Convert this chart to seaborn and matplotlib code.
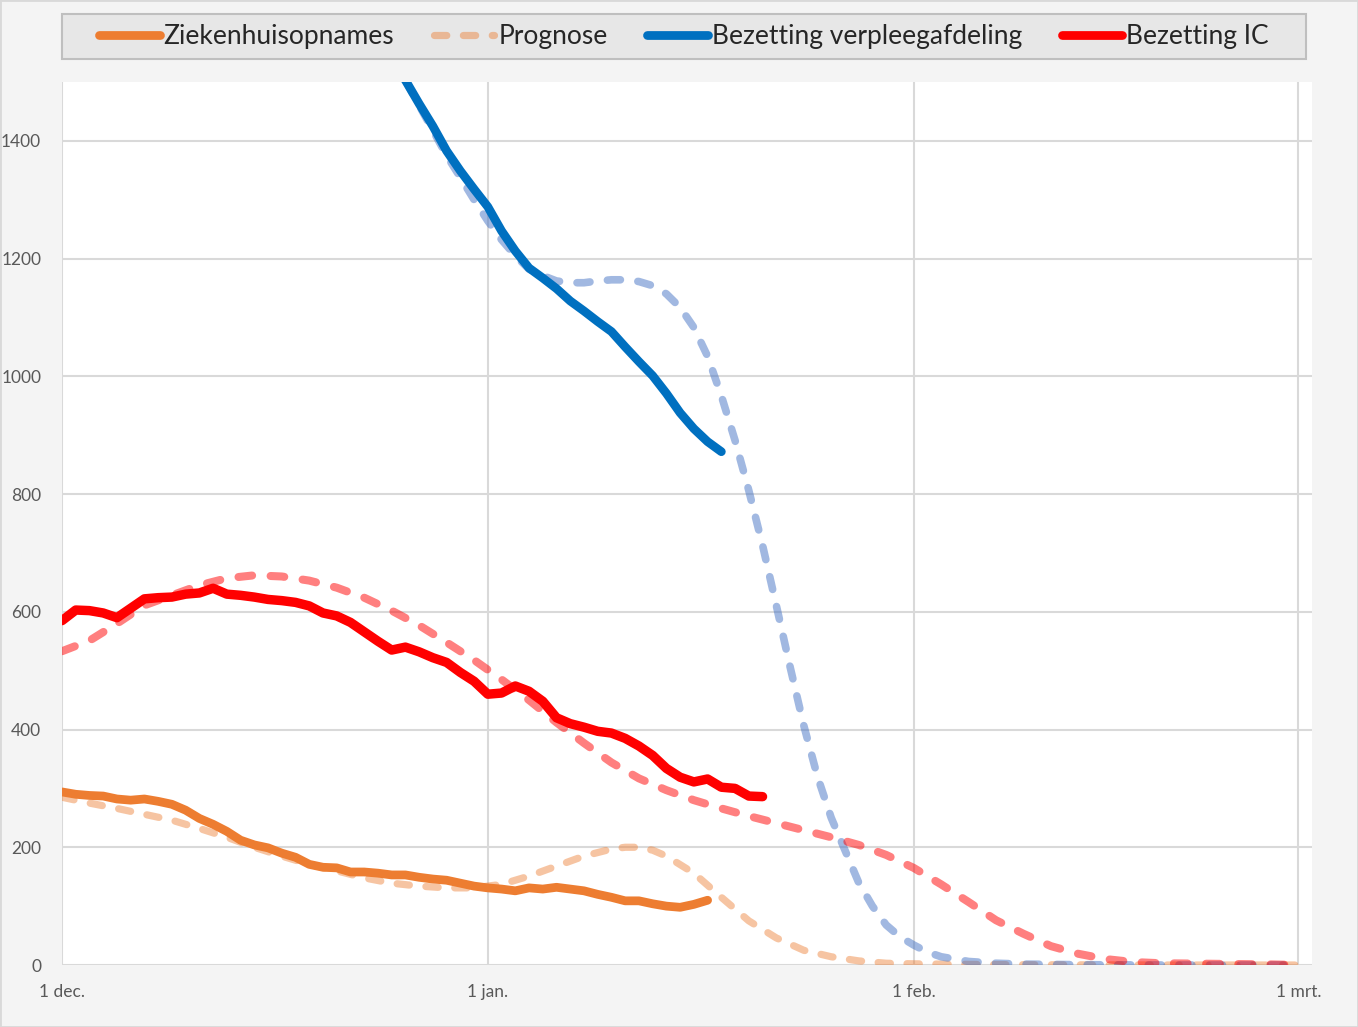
import pandas as pd
import seaborn as sns
import matplotlib.pyplot as plt
from matplotlib.lines import Line2D
from matplotlib.patches import Rectangle

# ---------------------------
# Data (x = days since 1 dec.)
# ---------------------------
opnames_days = list(range(0, 48))
opnames = [294, 290, 288, 287, 282, 280, 282, 278, 273, 263, 249, 239, 227, 212,
           204, 199, 190, 183, 171, 166, 165, 158, 158, 156, 153, 153, 149, 146,
           144, 139, 134, 131, 129, 126, 131, 129, 132, 129, 126, 120, 115, 109,
           109, 104, 100, 98, 103, 110]

ic_days = list(range(0, 52))
ic = [585, 603, 602, 598, 590, 606, 622, 624, 625, 630, 632, 640, 630, 628, 625,
      621, 619, 616, 610, 598, 593, 582, 566, 550, 535, 540, 532, 522, 514, 497,
      482, 460, 462, 474, 465, 448, 420, 410, 404, 397, 394, 385, 372, 356, 334,
      319, 311, 316, 302, 300, 287, 286]

verpleeg_days = list(range(24, 49))
verpleeg = [1545, 1503, 1463, 1425, 1383, 1349, 1318, 1288, 1247, 1213, 1184,
            1167, 1149, 1128, 1111, 1093, 1076, 1050, 1025, 1001, 971, 938, 911,
            889, 872]

# prognoses
progn_opn_days = [0, 2, 4, 6, 8, 10, 12, 14, 16, 18, 20, 22, 24, 26, 28, 30, 32,
                  34, 36, 38, 40, 41, 42, 43, 44, 46, 48, 50, 52, 54, 56, 58, 60,
                  62, 66, 70, 80, 90]
progn_opn = [285, 275, 266, 256, 246, 232, 217, 200, 185, 171, 160, 148, 139, 134,
             131, 131, 137, 151, 168, 185, 197, 200, 200, 195, 185, 156, 115, 75,
             46, 25, 14, 7, 3, 2, 1, 0.5, 0, 0]

progn_ic_days = [0, 2, 4, 6, 8, 10, 12, 14, 16, 18, 20, 22, 24, 26, 28, 30, 32, 34,
                 36, 38, 40, 42, 44, 46, 48, 50, 52, 54, 56, 58, 60, 62, 64, 66,
                 68, 70, 72, 74, 76, 78, 80, 84, 88, 90]
progn_ic = [533, 551, 580, 611, 628, 645, 657, 662, 660, 653, 641, 624, 602, 577,
            548, 518, 485, 450, 412, 377, 344, 317, 297, 280, 266, 253, 241, 229,
            217, 204, 187, 165, 137, 107, 76, 53, 32, 19, 10, 5, 3, 2, 1, 0]

progn_vp_days = [24, 25, 26, 27, 28, 29, 30, 31, 32, 33, 34, 35, 36, 37, 38, 39, 40,
                 41, 42, 43, 44, 45, 46, 47, 48, 49, 50, 51, 52, 53, 54, 55, 56,
                 57, 58, 59, 60, 61, 62, 63, 64, 66, 68, 70, 74, 80, 90]
progn_vp = [1545, 1503, 1460, 1418, 1375, 1338, 1300, 1264, 1232, 1205, 1182, 1171,
            1162, 1159, 1159, 1162, 1164, 1164, 1161, 1154, 1140, 1117, 1083, 1034,
            967, 891, 806, 713, 611, 507, 407, 320, 250, 195, 140, 100, 68, 48, 34,
            22, 14, 6, 3, 1.5, 0.5, 0, 0]

tick_days = [0, 31, 62, 90]
tick_labels = ["1 dec.", "1 jan.", "1 feb.", "1 mrt."]

ORANGE = "#ED7D31"
BLUE = "#0070C0"
RED = "#FF0000"
BLUE_P = "#4472C4"

W, H = 1358, 1027

sns.set_style("white")
plt.rcParams["font.family"] = ["Lato", "DejaVu Sans"]

fig = plt.figure(figsize=(W / 100, H / 100), dpi=100, facecolor="#f4f4f4")
ax = fig.add_axes([62 / W, 62 / H, (1312 - 62) / W, (965 - 82) / H])
ax.set_facecolor("white")

dash = [1.7, 2.3]


def draw(days, vals, color, lw, alpha=1.0, dashed=False, z=2):
    df = pd.DataFrame({"dag": days, "waarde": vals})
    sns.lineplot(data=df, x="dag", y="waarde", ax=ax, color=color, lw=lw,
                 alpha=alpha, estimator=None, sort=False, zorder=z)
    line = ax.lines[-1]
    if dashed:
        line.set_dashes(dash)
        line.set_dash_capstyle("round")
    else:
        line.set_solid_capstyle("round")
        line.set_solid_joinstyle("round")


# prognoses (dashed, light)
draw(progn_opn_days, progn_opn, ORANGE, 5.2, alpha=0.45, dashed=True, z=2)
draw(progn_vp_days, progn_vp, BLUE_P, 5.5, alpha=0.5, dashed=True, z=3)
draw(progn_ic_days, progn_ic, RED, 5.8, alpha=0.5, dashed=True, z=4)

# observed (solid)
draw(opnames_days, opnames, ORANGE, 6.3, z=5)
draw(verpleeg_days, verpleeg, BLUE, 6.3, z=6)
draw(ic_days, ic, RED, 6.8, z=7)

ax.set_xlim(0, 91)
ax.set_ylim(0, 1500)
ax.set_xticks(tick_days)
ax.set_xticklabels(tick_labels)
ax.set_yticks(range(0, 1401, 200))
ax.set_xlabel("")
ax.set_ylabel("")
ax.grid(True, color="#d9d9d9", lw=1.5)
ax.set_axisbelow(True)
for s in ax.spines.values():
    s.set_visible(False)
ax.tick_params(axis="both", length=0, labelsize=12.5, labelcolor="#595959")
ax.tick_params(axis="y", pad=15)
ax.tick_params(axis="x", pad=14)

# ---------------------------
# Legend box on top
# ---------------------------
fig.patches.append(Rectangle((62 / W, 1 - 59 / H), 1244 / W, 45 / H,
                             transform=fig.transFigure, fc="#e7e7e7",
                             ec="#bfbfbf", lw=1.5, zorder=0))
handles = [
    Line2D([], [], color=ORANGE, lw=6.3, solid_capstyle="round"),
    Line2D([], [], color=ORANGE, lw=5.2, alpha=0.45, dashes=dash,
           dash_capstyle="round"),
    Line2D([], [], color=BLUE, lw=6.3, solid_capstyle="round"),
    Line2D([], [], color=RED, lw=6.3, solid_capstyle="round"),
]
labels = ["Ziekenhuisopnames", "Prognose", "Bezetting verpleegafdeling", "Bezetting IC"]
fig.legend(handles, labels, loc="center", ncol=4, frameon=False,
           bbox_to_anchor=((62 + 1306) / 2 / W, 1 - 36.5 / H),
           fontsize=19, handlelength=2.3, handletextpad=0.15, columnspacing=1.5)

fig.patches.append(Rectangle((0, 0), 1, 1, transform=fig.transFigure,
                             fill=False, ec="#d9d9d9", lw=2))

fig.savefig("out.png", dpi=100, facecolor=fig.get_facecolor())
